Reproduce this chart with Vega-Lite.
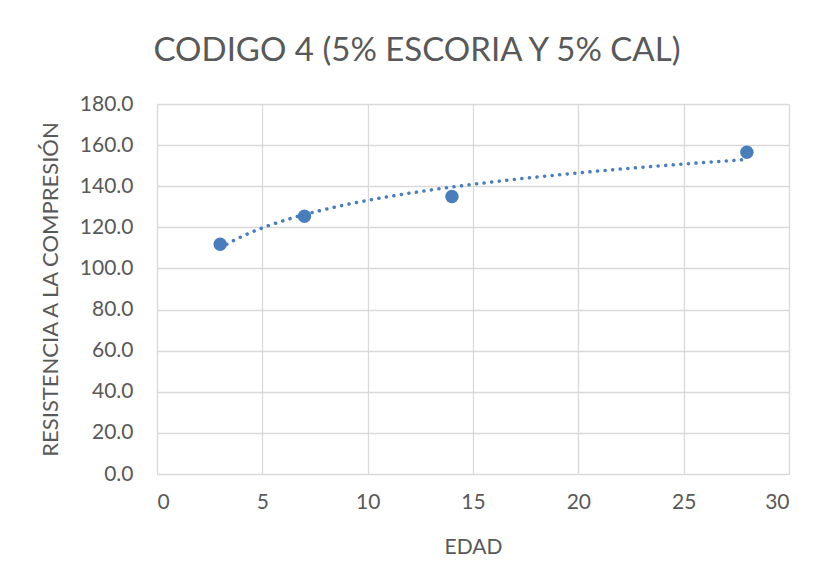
{
  "$schema": "https://vega.github.io/schema/vega-lite/v6.json",
  "autosize": {"type": "none"},
  "width": 632,
  "height": 370,
  "padding": {"left": 157, "top": 104, "right": 32, "bottom": 114},
  "background": "white",
  "config": {"view": {"stroke": null}, "font": "Lato"},
  "title": {
    "text": "CODIGO 4 (5% ESCORIA Y 5% CAL)",
    "fontSize": 33,
    "font": "Lato",
    "fontWeight": "normal",
    "color": "#595959",
    "anchor": "middle",
    "dx": -56,
    "offset": 25
  },
  "data": {
    "values": [
      {"edad": 3, "resistencia": 111.8},
      {"edad": 7, "resistencia": 125.4},
      {"edad": 14, "resistencia": 135.0},
      {"edad": 28, "resistencia": 156.5}
    ]
  },
  "layer": [
    {
      "transform": [{"regression": "resistencia", "on": "edad", "method": "log"}],
      "mark": {"type": "line", "color": "#4a7ebb", "strokeWidth": 3.5, "strokeDash": [0.1, 7.5], "strokeCap": "round"},
      "encoding": {
        "x": {"field": "edad", "type": "quantitative"},
        "y": {"field": "resistencia", "type": "quantitative"}
      }
    },
    {
      "mark": {"type": "point", "filled": true, "opacity": 1, "color": "#4a7ebb", "size": 180},
      "encoding": {
        "x": {
          "field": "edad", "type": "quantitative",
          "scale": {"domain": [0, 30], "nice": false},
          "axis": {
            "title": "EDAD", "values": [0, 5, 10, 15, 20, 25, 30],
            "grid": true, "gridColor": "#d9d9d9", "gridWidth": 1.3,
            "domain": false, "ticks": false,
            "labelFontSize": 21, "labelColor": "#595959", "labelPadding": 17,
            "titleFontSize": 21, "titleColor": "#595959", "titleFontWeight": "normal", "titlePadding": 24
          }
        },
        "y": {
          "field": "resistencia", "type": "quantitative",
          "scale": {"domain": [0, 180], "nice": false},
          "axis": {
            "title": "RESISTENCIA  A LA COMPRESIÓN", "values": [0, 20, 40, 60, 80, 100, 120, 140, 160, 180],
            "format": ".1f",
            "grid": true, "gridColor": "#d9d9d9", "gridWidth": 1.3,
            "domain": false, "ticks": false,
            "labelFontSize": 21, "labelColor": "#595959", "labelPadding": 24,
            "titleFontSize": 22, "titleColor": "#595959", "titleFontWeight": "normal", "titlePadding": 17
          }
        }
      }
    }
  ]
}
